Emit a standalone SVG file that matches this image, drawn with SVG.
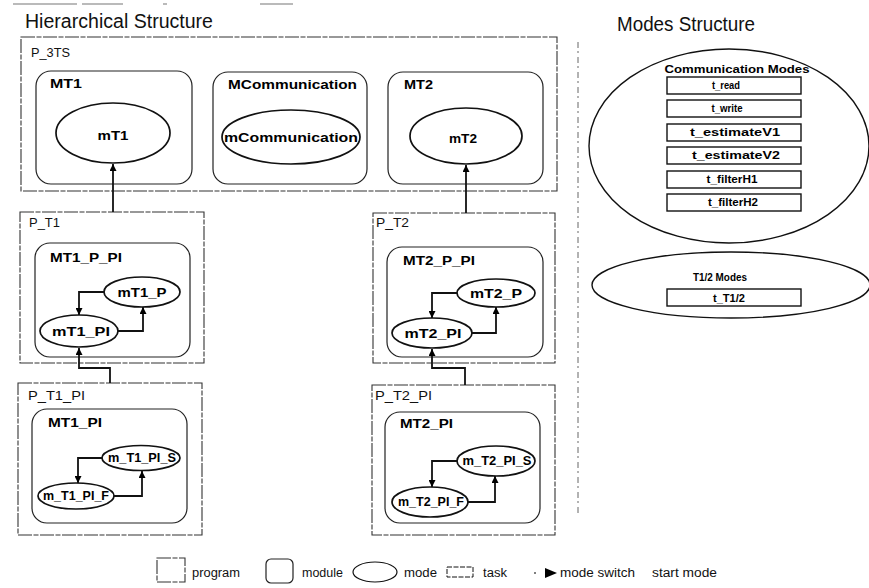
<svg xmlns="http://www.w3.org/2000/svg" width="869" height="588" viewBox="0 0 869 588">
<defs>
<style>
.prog{fill:none;stroke:#333;stroke-width:1.1;stroke-dasharray:14 1.5 5 1.5}
.mod{fill:none;stroke:#222;stroke-width:1.2}
.mode{fill:#fff;stroke:#111;stroke-width:1.7}
.task{fill:#fff;stroke:#111;stroke-width:1.4}
.con{fill:none;stroke:#111;stroke-width:1.8}
.title{font-family:"Liberation Sans",Arial,sans-serif;font-size:19.5px;fill:#111}
.plab{font-family:"Liberation Sans",Arial,sans-serif;font-size:13.5px;fill:#111}
.lab{font-family:"Liberation Sans",Arial,sans-serif;font-size:12px;font-weight:bold;fill:#000}
.tlab{font-family:"Liberation Sans",Arial,sans-serif;font-size:10px;font-weight:bold;fill:#000;text-anchor:middle}
.leg{font-family:"Liberation Sans",Arial,sans-serif;font-size:12.5px;fill:#111}
.mid{text-anchor:middle}
.faint{fill:none;stroke:#666;stroke-width:1;stroke-dasharray:6 3 2 4}
</style>
<marker id="arr" viewBox="0 0 10 10" refX="10" refY="5" markerWidth="7" markerHeight="7" markerUnits="userSpaceOnUse" orient="auto">
<path d="M0,0 L10,5 L0,10 z" fill="#000"/>
</marker>
</defs>
<rect width="869" height="588" fill="#fff"/>

<!-- scan artifacts at top -->
<path d="M13,4 H77 M82,4 H123 M163,4 H167 M260,4 H293" stroke="#777" stroke-width="1.2" fill="none"/>

<text class="title" x="25" y="28" textLength="188" lengthAdjust="spacingAndGlyphs">Hierarchical Structure</text>
<text class="title" x="617" y="31" textLength="138" lengthAdjust="spacingAndGlyphs">Modes Structure</text>

<!-- separator -->
<line x1="578" y1="42" x2="578" y2="513" class="faint"/>

<g id="P_3TS">
<rect class="prog" x="21" y="37" width="536" height="154"/>
<text class="plab" x="31" y="57" textLength="39" lengthAdjust="spacingAndGlyphs">P_3TS</text>
</g>
<g id="MT1">
<rect class="mod" x="36" y="71" width="156" height="113" rx="15"/>
<text class="lab" x="50" y="88" textLength="32" lengthAdjust="spacingAndGlyphs">MT1</text>
</g>
<g id="mT1">
<ellipse class="mode" cx="113" cy="133" rx="57" ry="30"/>
<text class="lab mid" x="113" y="140" textLength="31" lengthAdjust="spacingAndGlyphs">mT1</text>
</g>
<g id="MCommunication">
<rect class="mod" x="213" y="72" width="154" height="112" rx="15"/>
<text class="lab" x="228" y="89" textLength="129" lengthAdjust="spacingAndGlyphs">MCommunication</text>
</g>
<g id="mCommunication">
<ellipse class="mode" cx="291" cy="137" rx="69" ry="27"/>
<text class="lab mid" x="291" y="142" textLength="134" lengthAdjust="spacingAndGlyphs">mCommunication</text>
</g>
<g id="MT2">
<rect class="mod" x="388" y="72" width="155" height="112" rx="15"/>
<text class="lab" x="404" y="89" textLength="29" lengthAdjust="spacingAndGlyphs">MT2</text>
</g>
<g id="mT2">
<ellipse class="mode" cx="466" cy="136" rx="56" ry="28"/>
<text class="lab mid" x="463" y="143" textLength="28" lengthAdjust="spacingAndGlyphs">mT2</text>
</g>

<g id="P_T1">
<rect class="prog" x="20" y="212" width="184" height="151"/>
<text class="plab" x="29" y="227" textLength="31" lengthAdjust="spacingAndGlyphs">P_T1</text>
</g>
<g id="MT1_P_PI">
<rect class="mod" x="35" y="243" width="155" height="114" rx="15"/>
<text class="lab" x="50" y="262" textLength="72" lengthAdjust="spacingAndGlyphs">MT1_P_PI</text>
</g>
<g id="mT1_P">
<ellipse class="mode" cx="142" cy="292" rx="38" ry="15"/>
<text class="lab mid" x="142" y="297" textLength="49" lengthAdjust="spacingAndGlyphs">mT1_P</text>
</g>
<g id="mT1_PI">
<ellipse class="mode" cx="79" cy="331" rx="39" ry="16"/>
<text class="lab mid" x="81" y="336" textLength="58" lengthAdjust="spacingAndGlyphs">mT1_PI</text>
</g>

<g id="P_T2">
<rect class="prog" x="373" y="213" width="182" height="150"/>
<text class="plab" x="376" y="227" textLength="33" lengthAdjust="spacingAndGlyphs">P_T2</text>
</g>
<g id="MT2_P_PI">
<rect class="mod" x="387" y="247" width="156" height="110" rx="15"/>
<text class="lab" x="403" y="265" textLength="72" lengthAdjust="spacingAndGlyphs">MT2_P_PI</text>
</g>
<g id="mT2_P">
<ellipse class="mode" cx="496" cy="293" rx="39" ry="14"/>
<text class="lab mid" x="496" y="298" textLength="52" lengthAdjust="spacingAndGlyphs">mT2_P</text>
</g>
<g id="mT2_PI">
<ellipse class="mode" cx="432" cy="333" rx="40" ry="15"/>
<text class="lab mid" x="433" y="338" textLength="57" lengthAdjust="spacingAndGlyphs">mT2_PI</text>
</g>

<g id="P_T1_PI">
<rect class="prog" x="18" y="383" width="184" height="152"/>
<text class="plab" x="28" y="400" textLength="57" lengthAdjust="spacingAndGlyphs">P_T1_PI</text>
</g>
<g id="MT1_PI">
<rect class="mod" x="32" y="409" width="155" height="114" rx="15"/>
<text class="lab" x="48" y="427" textLength="54" lengthAdjust="spacingAndGlyphs">MT1_PI</text>
</g>
<g id="m_T1_PI_S">
<ellipse class="mode" cx="141" cy="458" rx="39" ry="12.5"/>
<text class="lab mid" x="142" y="462" font-size="10" textLength="68" lengthAdjust="spacingAndGlyphs">m_T1_PI_S</text>
</g>
<g id="m_T1_PI_F">
<ellipse class="mode" cx="76" cy="496" rx="38" ry="13"/>
<text class="lab mid" x="76" y="500" font-size="10" textLength="66" lengthAdjust="spacingAndGlyphs">m_T1_PI_F</text>
</g>

<g id="P_T2_PI">
<rect class="prog" x="372" y="385" width="183" height="150"/>
<text class="plab" x="375" y="400" textLength="57" lengthAdjust="spacingAndGlyphs">P_T2_PI</text>
</g>
<g id="MT2_PI">
<rect class="mod" x="385" y="412" width="155" height="111" rx="15"/>
<text class="lab" x="400" y="428" textLength="53" lengthAdjust="spacingAndGlyphs">MT2_PI</text>
</g>
<g id="m_T2_PI_S">
<ellipse class="mode" cx="496" cy="461" rx="39" ry="15"/>
<text class="lab mid" x="497" y="465" font-size="10" textLength="69" lengthAdjust="spacingAndGlyphs">m_T2_PI_S</text>
</g>
<g id="m_T2_PI_F">
<ellipse class="mode" cx="430" cy="502" rx="38" ry="15"/>
<text class="lab mid" x="431" y="506" font-size="10" textLength="66" lengthAdjust="spacingAndGlyphs">m_T2_PI_F</text>
</g>

<g id="CommunicationModes">
<ellipse class="mode" cx="729" cy="146" rx="140" ry="97" style="stroke-width:1.4"/>
<text class="tlab" x="737" y="73" textLength="145" lengthAdjust="spacingAndGlyphs">Communication Modes</text>
<rect class="task" x="667" y="77" width="134" height="17"/>
<text class="tlab" x="726" y="89" textLength="28" lengthAdjust="spacingAndGlyphs">t_read</text>
<rect class="task" x="667" y="100" width="134" height="17"/>
<text class="tlab" x="727" y="112" textLength="31" lengthAdjust="spacingAndGlyphs">t_write</text>
<rect class="task" x="667" y="124" width="134" height="17"/>
<text class="tlab" x="735" y="136" textLength="90" lengthAdjust="spacingAndGlyphs">t_estimateV1</text>
<rect class="task" x="667" y="147" width="134" height="17"/>
<text class="tlab" x="736" y="159" textLength="88" lengthAdjust="spacingAndGlyphs">t_estimateV2</text>
<rect class="task" x="667" y="171" width="134" height="17"/>
<text class="tlab" x="732" y="183" textLength="51" lengthAdjust="spacingAndGlyphs">t_filterH1</text>
<rect class="task" x="667" y="194" width="134" height="17"/>
<text class="tlab" x="733" y="206" textLength="50" lengthAdjust="spacingAndGlyphs">t_filterH2</text>
</g>

<g id="T12Modes">
<ellipse class="mode" cx="731" cy="285" rx="139" ry="33" style="stroke-width:1.4"/>
<text class="tlab" x="720" y="281" textLength="54" lengthAdjust="spacingAndGlyphs">T1/2 Modes</text>
<rect class="task" x="667" y="289" width="134" height="17"/>
<text class="tlab" x="729" y="302" textLength="32" lengthAdjust="spacingAndGlyphs">t_T1/2</text>
</g>

<g id="connectors">
<path class="con" d="M113,212 V164" marker-end="url(#arr)"/>
<path class="con" d="M466,213 V165" marker-end="url(#arr)"/>
<path class="con" d="M110,383 V368 H79 V348" marker-end="url(#arr)"/>
<path class="con" d="M465,385 V368 H432 V349" marker-end="url(#arr)"/>
<path class="con" d="M104,292 H79 V315" marker-end="url(#arr)"/>
<path class="con" d="M118,331 H143 V307" marker-end="url(#arr)"/>
<path class="con" d="M457,293 H432 V318" marker-end="url(#arr)"/>
<path class="con" d="M472,333 H496 V307" marker-end="url(#arr)"/>
<path class="con" d="M102,458 H78 V483" marker-end="url(#arr)"/>
<path class="con" d="M114,496 H142 V471" marker-end="url(#arr)"/>
<path class="con" d="M457,461 H432 V487" marker-end="url(#arr)"/>
<path class="con" d="M468,502 H495 V476" marker-end="url(#arr)"/>
</g>

<g id="legend">
<rect class="prog" x="157" y="558" width="28" height="24"/>
<text class="leg" x="192" y="577" textLength="48" lengthAdjust="spacingAndGlyphs">program</text>
<rect class="mod" x="266" y="559" width="27" height="24" rx="5"/>
<text class="leg" x="302" y="577" textLength="41" lengthAdjust="spacingAndGlyphs">module</text>
<ellipse class="mode" cx="375" cy="572" rx="22" ry="10" style="stroke-width:1.2"/>
<text class="leg" x="404" y="577" textLength="33" lengthAdjust="spacingAndGlyphs">mode</text>
<rect class="task" x="447" y="567" width="26" height="10" style="stroke-width:1;stroke-dasharray:5 1.5"/>
<text class="leg" x="483" y="577" textLength="24" lengthAdjust="spacingAndGlyphs">task</text>
<line x1="534" y1="573" x2="536" y2="573" stroke="#555" stroke-width="1.5"/>
<path d="M545,568 L557,573 L545,578 z" fill="#000"/>
<text class="leg" x="560" y="577" textLength="75" lengthAdjust="spacingAndGlyphs">mode switch</text>
<text class="leg" x="652" y="577" textLength="65" lengthAdjust="spacingAndGlyphs">start mode</text>
</g>
</svg>
